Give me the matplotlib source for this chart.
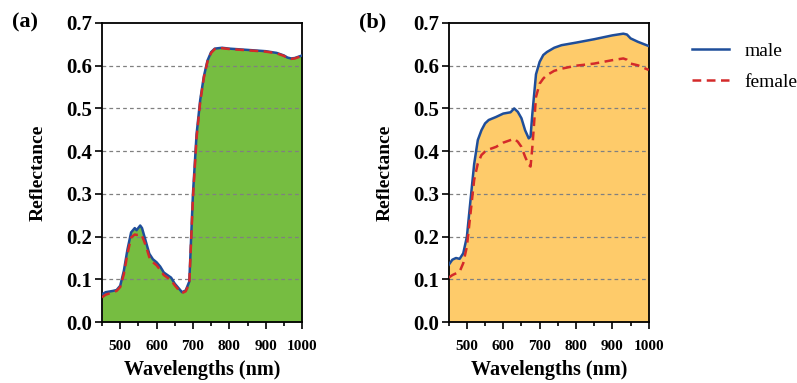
import matplotlib
matplotlib.use("Agg")
import matplotlib.pyplot as plt
from matplotlib.ticker import MultipleLocator

plt.rcParams["font.family"] = ["Liberation Serif", "DejaVu Serif"]

# panel (a)
wl_a = [450, 460, 480, 490, 500, 510, 520, 530, 540, 545, 555, 560, 570, 580, 590,
        600, 610, 620, 630, 640, 650, 660, 670, 680, 690, 700, 710, 720, 730, 740,
        750, 760, 780, 800, 850, 900, 930, 950, 960, 970, 980, 1000]
male_a = [0.065, 0.070, 0.073, 0.075, 0.085, 0.120, 0.170, 0.210, 0.220, 0.215, 0.226,
          0.220, 0.190, 0.160, 0.147, 0.140, 0.130, 0.116, 0.110, 0.104, 0.090, 0.080,
          0.070, 0.074, 0.095, 0.300, 0.440, 0.520, 0.575, 0.612, 0.632, 0.640, 0.642,
          0.640, 0.637, 0.634, 0.630, 0.624, 0.619, 0.617, 0.618, 0.624]
female_a = [0.058, 0.064, 0.070, 0.073, 0.082, 0.112, 0.160, 0.198, 0.205, 0.204, 0.206,
            0.202, 0.180, 0.152, 0.140, 0.133, 0.122, 0.110, 0.104, 0.098, 0.086, 0.076,
            0.068, 0.072, 0.090, 0.290, 0.432, 0.515, 0.572, 0.610, 0.630, 0.639, 0.641,
            0.639, 0.636, 0.633, 0.629, 0.623, 0.618, 0.616, 0.617, 0.623]

# panel (b)
wl_b = [450, 460, 470, 480, 490, 500, 510, 520, 530, 540, 550, 560, 580, 600, 620,
        630, 640, 650, 660, 670, 675, 680, 690, 700, 710, 720, 740, 760, 800, 850,
        900, 930, 940, 950, 970, 1000]
male_b = [0.134, 0.146, 0.150, 0.148, 0.161, 0.200, 0.286, 0.370, 0.426, 0.449, 0.465,
          0.473, 0.480, 0.488, 0.491, 0.500, 0.492, 0.477, 0.449, 0.430, 0.434, 0.488,
          0.580, 0.609, 0.625, 0.632, 0.642, 0.648, 0.654, 0.662, 0.671, 0.675, 0.673,
          0.664, 0.656, 0.646]
female_b = [0.104, 0.110, 0.114, 0.118, 0.138, 0.177, 0.255, 0.333, 0.371, 0.391, 0.399,
            0.404, 0.410, 0.420, 0.426, 0.429, 0.422, 0.410, 0.387, 0.368, 0.364, 0.410,
            0.527, 0.558, 0.570, 0.578, 0.588, 0.593, 0.600, 0.605, 0.613, 0.617, 0.614,
            0.605, 0.601, 0.590]

panels = [
    ("(a)", wl_a, male_a, female_a, "#76BD41"),
    ("(b)", wl_b, male_b, female_b, "#FECB6A"),
]
x_ticks = [500, 600, 700, 800, 900, 1000]

fig = plt.figure(figsize=(7.97, 3.83), dpi=100)
lefts = [0.128, 0.563]

for (tag, wl, male, female, fill), left in zip(panels, lefts):
    ax = fig.add_axes([left, 0.159, 0.251, 0.781])
    ax.fill_between(wl, 0, male, color=fill, lw=0, zorder=1)
    for y in [0.1, 0.2, 0.3, 0.4, 0.5, 0.6]:
        ax.axhline(y, color="#808080", ls=(0, (3, 2.5)), lw=0.9, zorder=2)
    ax.plot(wl, male, color="#1F4E9A", lw=1.8, zorder=3, label="male")
    ax.plot(wl, female, color="#D42A2A", lw=1.8, ls=(0, (3.5, 2.2)), zorder=4, label="female")
    ax.set_xlim(450, 1000)
    ax.set_ylim(0, 0.7)
    ax.set_xticks(x_ticks)
    ax.xaxis.set_minor_locator(MultipleLocator(50))
    ax.yaxis.set_major_locator(MultipleLocator(0.1))
    ax.yaxis.set_major_formatter(plt.FormatStrFormatter("%.1f"))
    ax.tick_params(axis="x", which="major", length=5, width=1.2, labelsize=11, pad=8)
    ax.tick_params(axis="x", which="minor", length=3, width=1.2)
    ax.tick_params(axis="y", which="major", length=5, width=1.2, labelsize=15, pad=2)
    for lab in ax.get_xticklabels() + ax.get_yticklabels():
        lab.set_fontweight("bold")
    for sp in ax.spines.values():
        sp.set_linewidth(1.3)
    ax.set_xlabel("Wavelengths (nm)", fontsize=14.5, fontweight="bold", labelpad=5)
    ax.set_ylabel("Reflectance", fontsize=14, fontweight="bold", labelpad=14)
    ax.text(-0.45, 1.0, tag, transform=ax.transAxes, fontsize=16,
            fontweight="bold", va="center", ha="left")

handles, labels = ax.get_legend_handles_labels()
fig.legend(handles, labels, loc="upper left", bbox_to_anchor=(0.846, 0.935),
           frameon=False, fontsize=14, handlelength=1.9, labelspacing=0.7,
           handletextpad=0.8)

fig.savefig("out.png", dpi=100)
